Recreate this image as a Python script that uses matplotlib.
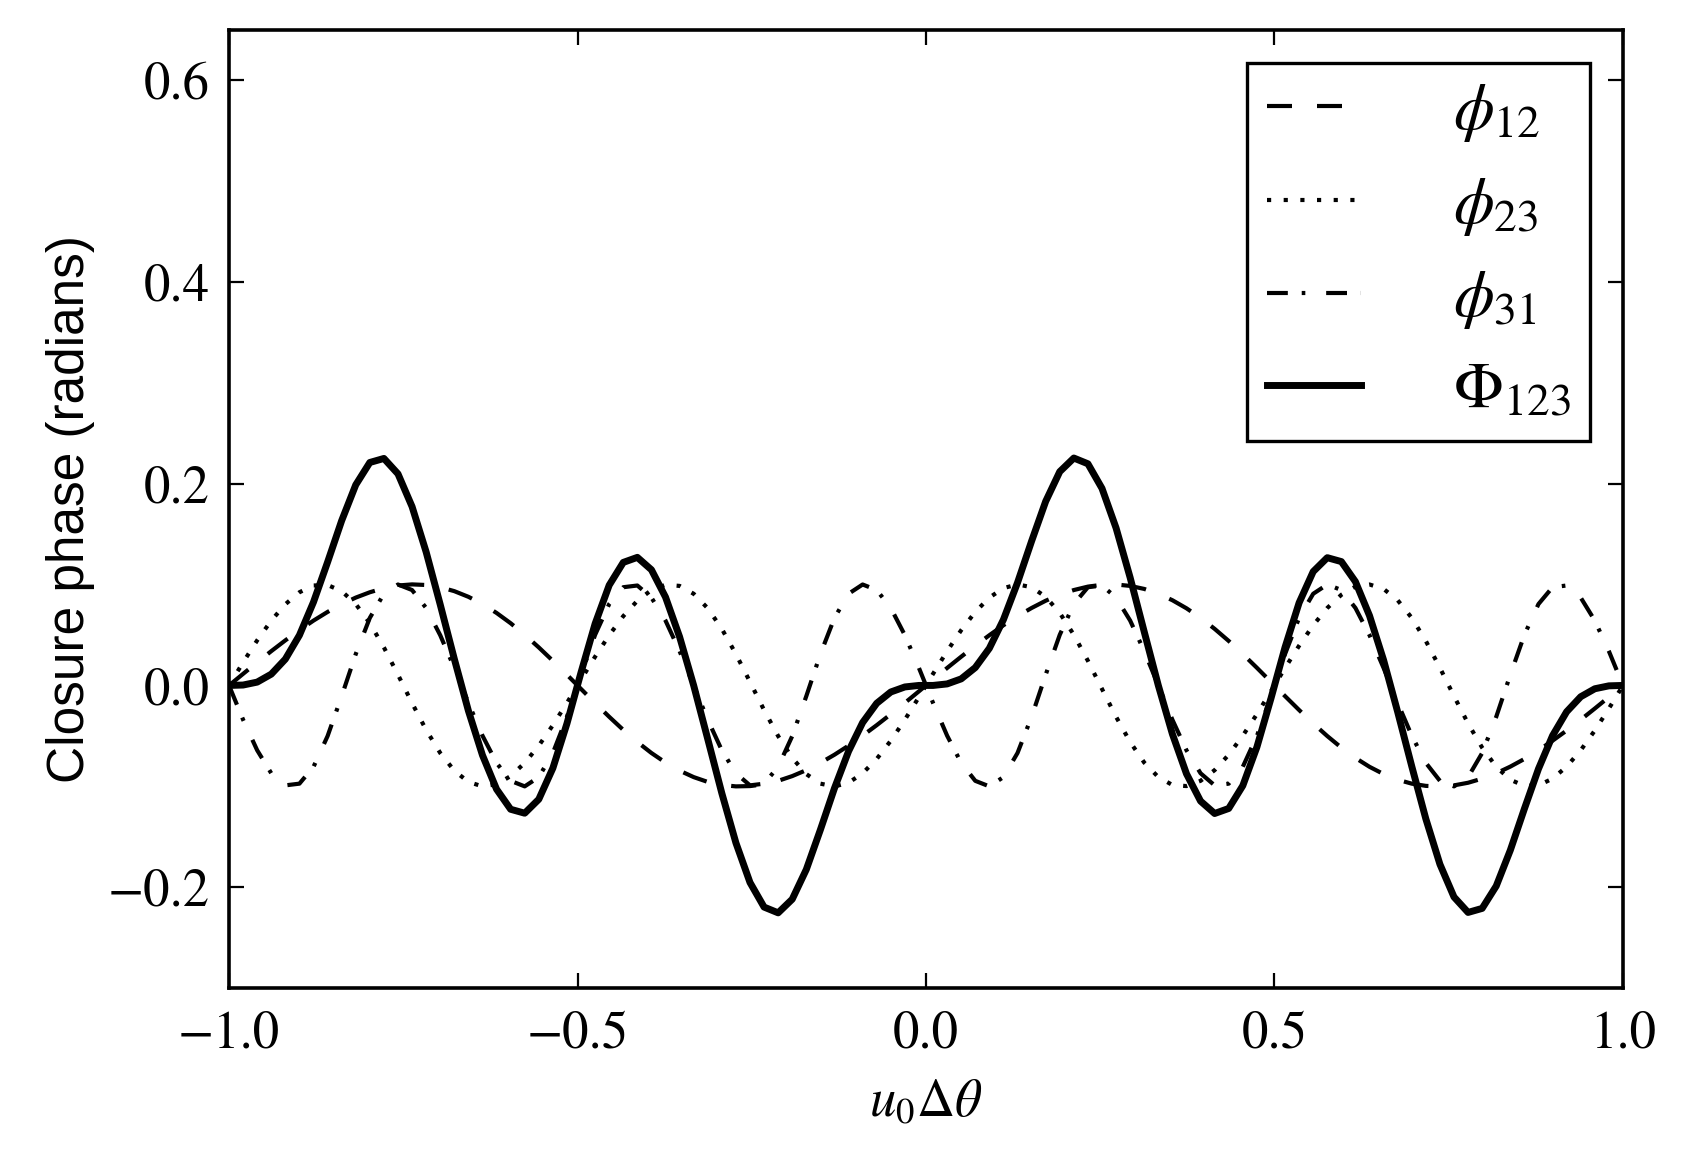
import matplotlib
matplotlib.use('Agg')
import matplotlib.pyplot as plt
import numpy as np

# baseline coordinate u0*dtheta, 100 samples from -1 to 1
u = np.linspace(-1, 1, 100)

phi12 = [0.0, 0.0115, 0.0229, 0.0340, 0.0447, 0.0548, 0.0643, 0.0729, 0.0805, 0.0871,
         0.0924, 0.0965, 0.0991, 0.1002, 0.0996, 0.0974, 0.0935, 0.0879, 0.0807, 0.0719,
         0.0617, 0.0502, 0.0377, 0.0244, 0.0106, -0.0035, -0.0175, -0.0311, -0.0441, -0.0561,
         -0.0670, -0.0765, -0.0845, -0.0909, -0.0957, -0.0987, -0.1001, -0.0998, -0.0980, -0.0946,
         -0.0899, -0.0840, -0.0768, -0.0687, -0.0597, -0.0498, -0.0394, -0.0285, -0.0173, -0.0058,
         0.0058, 0.0173, 0.0285, 0.0394, 0.0498, 0.0597, 0.0687, 0.0768, 0.0840, 0.0899,
         0.0946, 0.0980, 0.0998, 0.1001, 0.0987, 0.0957, 0.0909, 0.0845, 0.0765, 0.0670,
         0.0561, 0.0441, 0.0311, 0.0175, 0.0035, -0.0106, -0.0244, -0.0377, -0.0502, -0.0617,
         -0.0719, -0.0807, -0.0879, -0.0935, -0.0974, -0.0996, -0.1002, -0.0991, -0.0965, -0.0924,
         -0.0871, -0.0805, -0.0729, -0.0643, -0.0548, -0.0447, -0.0340, -0.0229, -0.0115, 0.0]

phi23 = [0.0, 0.0229, 0.0447, 0.0643, 0.0805, 0.0924, 0.0991, 0.0996, 0.0935, 0.0807,
         0.0617, 0.0377, 0.0106, -0.0175, -0.0441, -0.0670, -0.0845, -0.0957, -0.1001, -0.0980,
         -0.0899, -0.0768, -0.0597, -0.0394, -0.0173, 0.0058, 0.0285, 0.0498, 0.0687, 0.0840,
         0.0946, 0.0998, 0.0987, 0.0909, 0.0765, 0.0561, 0.0311, 0.0035, -0.0244, -0.0502,
         -0.0719, -0.0879, -0.0974, -0.1002, -0.0965, -0.0871, -0.0729, -0.0548, -0.0340, -0.0115,
         0.0115, 0.0340, 0.0548, 0.0729, 0.0871, 0.0965, 0.1002, 0.0974, 0.0879, 0.0719,
         0.0502, 0.0244, -0.0035, -0.0311, -0.0561, -0.0765, -0.0909, -0.0987, -0.0998, -0.0946,
         -0.0840, -0.0687, -0.0498, -0.0285, -0.0058, 0.0173, 0.0394, 0.0597, 0.0768, 0.0899,
         0.0980, 0.1001, 0.0957, 0.0845, 0.0670, 0.0441, 0.0175, -0.0106, -0.0377, -0.0617,
         -0.0807, -0.0935, -0.0996, -0.0991, -0.0924, -0.0805, -0.0643, -0.0447, -0.0229, 0.0]

phi31 = [0.0, -0.0340, -0.0643, -0.0871, -0.0991, -0.0974, -0.0807, -0.0502, -0.0106, 0.0311,
         0.0670, 0.0909, 0.1001, 0.0946, 0.0768, 0.0498, 0.0173, -0.0173, -0.0498, -0.0768,
         -0.0946, -0.1001, -0.0909, -0.0670, -0.0311, 0.0106, 0.0502, 0.0807, 0.0974, 0.0991,
         0.0871, 0.0643, 0.0340, 0.0, -0.0340, -0.0643, -0.0871, -0.0991, -0.0974, -0.0807,
         -0.0502, -0.0106, 0.0311, 0.0670, 0.0909, 0.1001, 0.0946, 0.0768, 0.0498, 0.0173,
         -0.0173, -0.0498, -0.0768, -0.0946, -0.1001, -0.0909, -0.0670, -0.0311, 0.0106, 0.0502,
         0.0807, 0.0974, 0.0991, 0.0871, 0.0643, 0.0340, 0.0, -0.0340, -0.0643, -0.0871,
         -0.0991, -0.0974, -0.0807, -0.0502, -0.0106, 0.0311, 0.0670, 0.0909, 0.1001, 0.0946,
         0.0768, 0.0498, 0.0173, -0.0173, -0.0498, -0.0768, -0.0946, -0.1001, -0.0909, -0.0670,
         -0.0311, 0.0106, 0.0502, 0.0807, 0.0974, 0.0991, 0.0871, 0.0643, 0.0340, 0.0]

Phi123 = [0.0, 0.0004, 0.0033, 0.0112, 0.0261, 0.0498, 0.0827, 0.1223, 0.1634, 0.1989,
          0.2211, 0.2251, 0.2098, 0.1773, 0.1323, 0.0802, 0.0263, -0.0251, -0.0692, -0.1029,
          -0.1228, -0.1267, -0.1129, -0.0820, -0.0378, 0.0129, 0.0612, 0.0994, 0.1220, 0.1270,
          0.1147, 0.0876, 0.0482, 0.0, -0.0532, -0.1069, -0.1561, -0.1954, -0.2198, -0.2255,
          -0.2120, -0.1825, -0.1431, -0.1019, -0.0653, -0.0368, -0.0177, -0.0065, -0.0015, 0.0,
          0.0, 0.0015, 0.0065, 0.0177, 0.0368, 0.0653, 0.1019, 0.1431, 0.1825, 0.2120,
          0.2255, 0.2198, 0.1954, 0.1561, 0.1069, 0.0532, 0.0, -0.0482, -0.0876, -0.1147,
          -0.1270, -0.1220, -0.0994, -0.0612, -0.0129, 0.0378, 0.0820, 0.1129, 0.1267, 0.1228,
          0.1029, 0.0692, 0.0251, -0.0263, -0.0802, -0.1323, -0.1773, -0.2098, -0.2251, -0.2211,
          -0.1989, -0.1634, -0.1223, -0.0827, -0.0498, -0.0261, -0.0112, -0.0033, -0.0004, 0.0]

labels = [r'$\phi_{12}$', r'$\phi_{23}$', r'$\phi_{31}$', r'$\Phi_{123}$']
xticks = [-1.0, -0.5, 0.0, 0.5, 1.0]
yticks = [-0.2, 0.0, 0.2, 0.4, 0.6]

plt.rcParams['font.family'] = 'STIXGeneral'
plt.rcParams['mathtext.fontset'] = 'stix'
plt.rcParams['lines.scale_dashes'] = False
plt.rcParams['axes.linewidth'] = 1.3

fig = plt.figure(figsize=(8.445, 5.785), dpi=200)
ax = fig.add_axes([0.1356, 0.1461, 0.8253, 0.828])

ax.plot(u, phi12, color='k', lw=1.5, ls=(0, (9, 9)), label=labels[0])
ax.plot(u, phi23, color='k', lw=1.5, ls=(0, (1.5, 4.5)), label=labels[1])
ax.plot(u, phi31, color='k', lw=1.5, ls=(0, (7.5, 5, 1.3, 7.5)), label=labels[2])
ax.plot(u, Phi123, color='k', lw=2.5, ls='-', label=labels[3])

ax.set_xlim(-1, 1)
ax.set_ylim(-0.3, 0.65)
ax.set_xticks(xticks)
ax.set_yticks(yticks)
ax.tick_params(direction='in', top=True, right=True, length=5.5, width=0.8,
               labelsize=19)
ax.tick_params(axis='x', pad=8)
ax.tick_params(axis='y', pad=7)

ax.set_xlabel(r'$u_0\Delta\theta$', fontsize=19, labelpad=7)
ax.set_ylabel('Closure phase (radians)', fontsize=18.5, labelpad=4.5,
              family=['Liberation Sans', 'DejaVu Sans'])

leg = ax.legend(loc='upper right', fontsize=23.5, handlelength=1.45,
                handletextpad=1.4, labelspacing=0.48, borderpad=0.3,
                borderaxespad=0.5, fancybox=False, framealpha=1)
leg.get_frame().set_edgecolor('k')
leg.get_frame().set_linewidth(1.2)

fig.savefig('out.png', dpi=200)
